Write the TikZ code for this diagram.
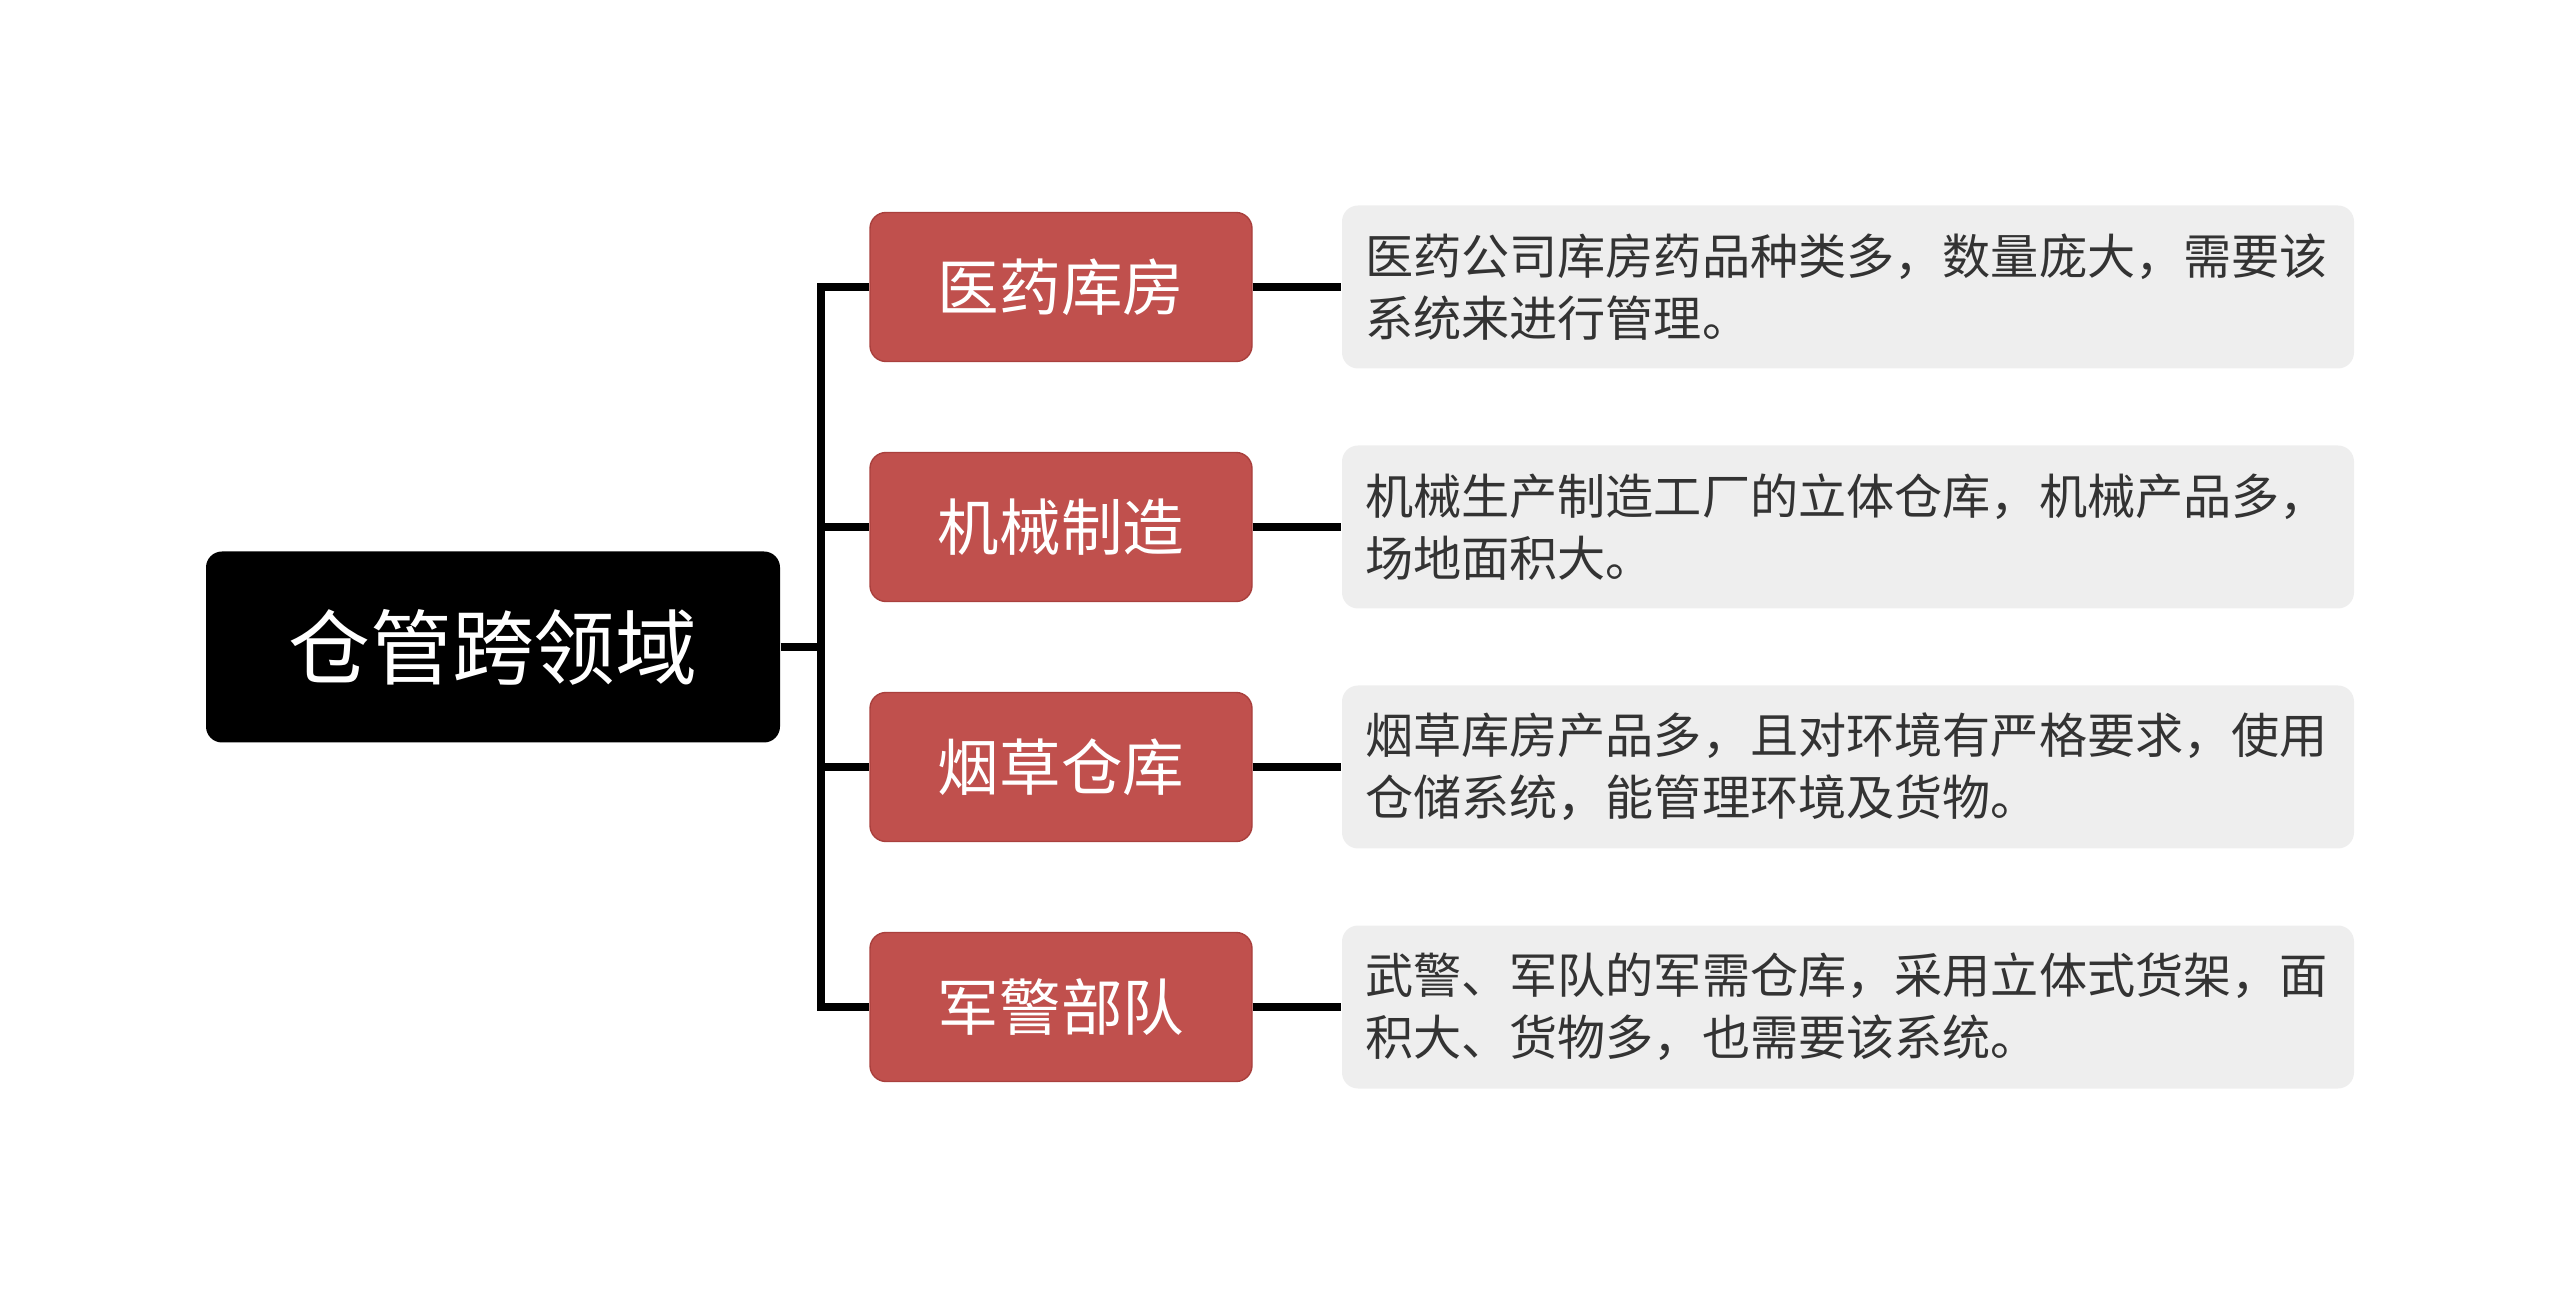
\documentclass[tikz,border=0pt]{standalone}
\usepackage{fontspec}
\setmainfont{Noto Sans CJK SC}
\usetikzlibrary{%
  calc,%
  positioning,%
}
\definecolor{topicred}{HTML}{C0504D}
\definecolor{topicedge}{HTML}{A9403D}
\definecolor{notegray}{HTML}{EEEEEE}
\definecolor{notetext}{HTML}{333333}

\begin{document}
\begin{tikzpicture}[
    rootbox/.style={fill=black, rounded corners=0.16cm, minimum width=5.74cm, minimum height=1.91cm, text=white, font=\fontsize{23.3}{28}\selectfont},
    topicbox/.style={fill=topicred, draw=topicedge, rounded corners=0.16cm, minimum width=3.82cm, minimum height=1.49cm, text=white, font=\fontsize{17.5}{21}\selectfont},
    notebox/.style={fill=notegray, rounded corners=0.16cm, minimum width=10.12cm, minimum height=1.63cm, text width=9.66cm, align=left, inner sep=0.23cm, text=notetext, font=\fontsize{13.7}{17.6}\selectfont},
    link/.style={line width=2.1pt},
  ]
      \useasboundingbox (0, 0) rectangle (25.6, -12.94);
      \node [rootbox] (root) at (4.93, -6.47) {仓管跨领域};
      \node [topicbox] (medicine) at (10.61, -2.87) {医药库房};
      \node [topicbox] (machine) at (10.61, -5.27) {机械制造};
      \node [topicbox] (tobacco) at (10.61, -7.67) {烟草仓库};
      \node [topicbox] (army) at (10.61, -10.07) {军警部队};
      \node [notebox] (medicinenote) at (18.48, -2.87) {医药公司库房药品种类多，数量庞大，需要该\\系统来进行管理。};
      \node [notebox] (machinenote) at (18.48, -5.27) {机械生产制造工厂的立体仓库，机械产品多，\\场地面积大。};
      \node [notebox] (tobacconote) at (18.48, -7.67) {烟草库房产品多，且对环境有严格要求，使用\\仓储系统，能管理环境及货物。};
      \node [notebox] (armynote) at (18.48, -10.07) {武警、军队的军需仓库，采用立体式货架，面\\积大、货物多，也需要该系统。};
      % trunk
      \coordinate (trunk) at (8.21, -6.47);
      \draw [link] (root.east) -- (trunk);
      \draw [link] (medicine.west) -| (trunk) |- (army.west);
      \draw [link] (trunk |- machine.west) -- (machine.west);
      \draw [link] (trunk |- tobacco.west) -- (tobacco.west);
      % notes
      \draw [link] (medicine.east) -- (medicinenote.west);
      \draw [link] (machine.east) -- (machinenote.west);
      \draw [link] (tobacco.east) -- (tobacconote.west);
      \draw [link] (army.east) -- (armynote.west);
    \end{tikzpicture}
\end{document}
